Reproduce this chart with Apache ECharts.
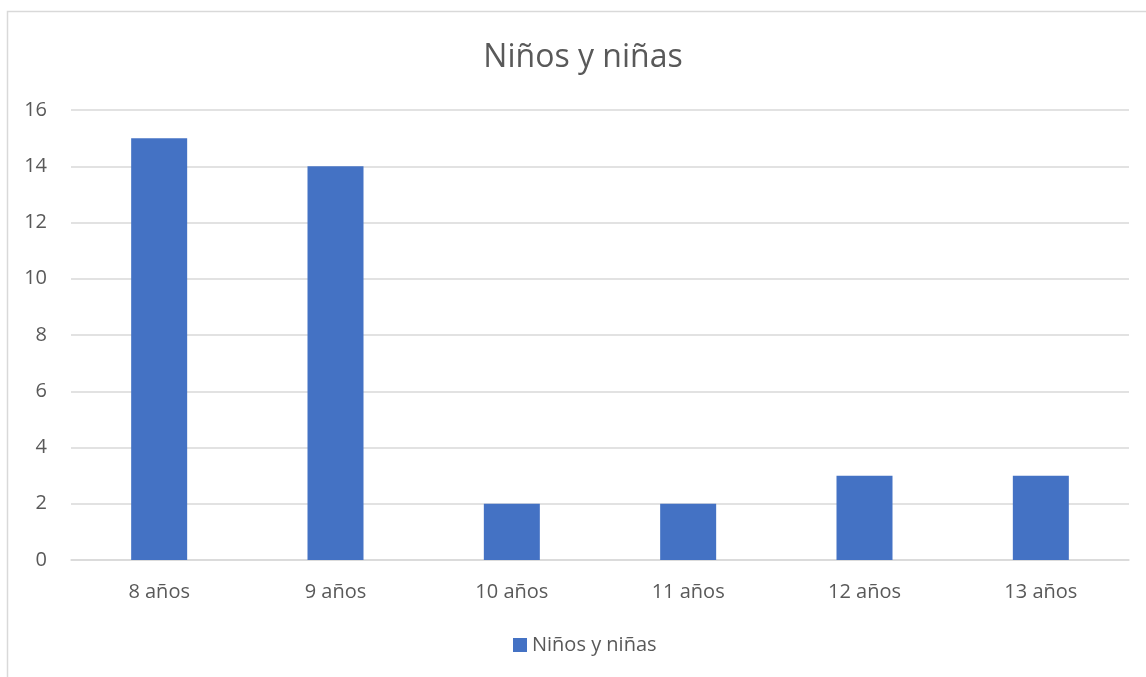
<!DOCTYPE html>
<html>
<head>
    <meta charset="UTF-8">
    <title>Niños y niñas</title>
    <script src="https://cdn.jsdelivr.net/npm/echarts@6/dist/echarts.min.js" type="text/javascript"></script>
    <style>
        html, body { margin: 0; padding: 0; background: #fff; }
    </style>
</head>
<body>
<div id="chart" style="width:1146px;height:677px"></div>
<script type="text/javascript">
    // datos del gráfico
    var edades = ['8 años', '9 años', '10 años', '11 años', '12 años', '13 años'];
    var cantidad = [15, 14, 2, 2, 3, 3];
    var serieNombre = 'Niños y niñas';

    var myChart = echarts.init(document.getElementById('chart'));
    var fuente = '"Open Sans", "Liberation Sans", sans-serif';
    var gris = '#595959';

    var option = {
        backgroundColor: '#ffffff',
        animation: false,
        // marco del gráfico
        graphic: [{
            type: 'rect',
            shape: { x: 7.5, y: 11.5, width: 1160, height: 700 },
            style: { fill: 'none', stroke: '#D9D9D9', lineWidth: 1.5 },
            silent: true
        }],
        title: {
            text: serieNombre,
            left: 578,
            textAlign: 'center',
            top: 37,
            textStyle: { fontFamily: fuente, fontSize: 32, fontWeight: 'normal', color: gris }
        },
        legend: {
            bottom: 17,
            left: 508,
            itemWidth: 14,
            itemHeight: 14,
            itemGap: 8,
            icon: 'rect',
            textStyle: { fontFamily: fuente, fontSize: 20, color: gris }
        },
        grid: {
            left: 71,
            right: 17,
            top: 110,
            bottom: 117
        },
        xAxis: {
            type: 'category',
            data: edades,
            axisTick: { show: false },
            axisLine: { show: true, lineStyle: { color: '#D9D9D9', width: 1.5 } },
            axisLabel: { margin: 22, fontFamily: fuente, fontSize: 20, color: gris }
        },
        yAxis: {
            type: 'value',
            min: 0,
            max: 16,
            interval: 2,
            axisLine: { show: false },
            axisTick: { show: false },
            splitLine: { lineStyle: { color: '#D9D9D9', width: 1.5 } },
            axisLabel: { margin: 24, fontFamily: fuente, fontSize: 20, color: gris }
        },
        series: [{
            name: serieNombre,
            type: 'bar',
            data: cantidad,
            barWidth: 56,
            itemStyle: { color: '#4472C4' }
        }]
    };
    myChart.setOption(option);
</script>
</body>
</html>
